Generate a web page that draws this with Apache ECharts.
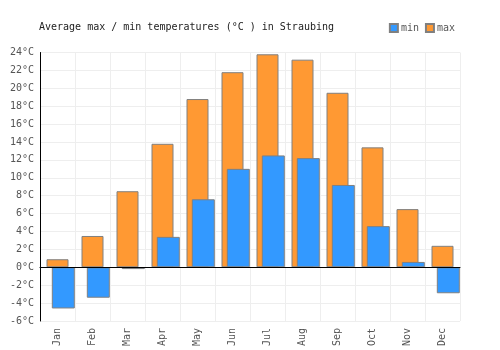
<!DOCTYPE html>
<html>
<head>
<meta charset="utf-8">
<script src="https://cdn.jsdelivr.net/npm/echarts@6/dist/echarts.min.js"></script>
<style>
  html, body { margin: 0; padding: 0; background: #fff; }
  #chart { width: 500px; height: 350px; }
</style>
</head>
<body>
<div id="chart"></div>
<script>
const months = ['Jan', 'Feb', 'Mar', 'Apr', 'May', 'Jun', 'Jul', 'Aug', 'Sep', 'Oct', 'Nov', 'Dec'];
const maxTemps = [0.9, 3.5, 8.5, 13.8, 18.8, 21.8, 23.8, 23.2, 19.5, 13.4, 6.5, 2.4];
const minTemps = [-4.6, -3.4, -0.2, 3.4, 7.6, 11.0, 12.5, 12.2, 9.2, 4.6, 0.6, -2.9];

const font = 'DejaVu Sans Mono';
const borderColor = '#808080';

let chart = echarts.init(document.getElementById('chart'));
chart.setOption({
    animation: false,
    textStyle: { fontFamily: font },
    title: {
        text: 'Average max / min temperatures (°C ) in Straubing',
        left: 34,
        top: 17,
        textStyle: { fontFamily: font, fontSize: 10, fontWeight: 'normal', color: '#222' }
    },
    legend: {
        data: ['min', 'max'],
        right: 40,
        top: 18,
        itemWidth: 8,
        itemHeight: 8,
        itemGap: 6,
        icon: 'rect',
        textStyle: { fontFamily: font, fontSize: 10, color: '#555', padding: [0, 0, 0, -2] }
    },
    grid: [
        { left: 40, top: 52.5, width: 420, height: 268.5 },
        // min bars sit a bit to the right of the max bars
        { left: 45.8, top: 52.5, width: 420, height: 268.5 }
    ],
    xAxis: [
        {
            type: 'category',
            gridIndex: 0,
            data: months,
            position: 'bottom',
            axisLine: { show: false, onZero: false },
            axisTick: { show: false },
            axisLabel: { rotate: 90, margin: 7, fontFamily: font, fontSize: 10, color: '#555' },
            splitLine: { show: true, lineStyle: { color: '#eeeeee', width: 1 } }
        },
        {
            type: 'category',
            gridIndex: 0,
            data: months,
            position: 'bottom',
            z: 10,
            axisLine: { show: true, onZero: true, lineStyle: { color: '#000', width: 1 } },
            axisTick: { show: false },
            axisLabel: { show: false },
            splitLine: { show: false }
        },
        {
            type: 'category',
            gridIndex: 1,
            data: months,
            show: false
        }
    ],
    yAxis: [
        {
            type: 'value',
            gridIndex: 0,
            min: -6,
            max: 24,
            interval: 2,
            axisLine: { show: true, lineStyle: { color: '#000', width: 1 } },
            axisTick: { show: false },
            axisLabel: { formatter: '{value}°C', margin: 6, fontFamily: font, fontSize: 10, color: '#555' },
            splitLine: { show: true, lineStyle: { color: '#eeeeee', width: 1 } }
        },
        {
            type: 'value',
            gridIndex: 1,
            min: -6,
            max: 24,
            show: false,
            splitLine: { show: false }
        }
    ],
    series: [
        {
            name: 'max',
            type: 'bar',
            xAxisIndex: 0,
            yAxisIndex: 0,
            data: maxTemps,
            barWidth: 22,
            itemStyle: { color: '#ff9933', borderColor: borderColor, borderWidth: 1 }
        },
        {
            name: 'min',
            type: 'bar',
            xAxisIndex: 2,
            yAxisIndex: 1,
            data: minTemps,
            barWidth: 23,
            itemStyle: { color: '#3399ff', borderColor: borderColor, borderWidth: 1 }
        }
    ]
});
</script>
</body>
</html>
